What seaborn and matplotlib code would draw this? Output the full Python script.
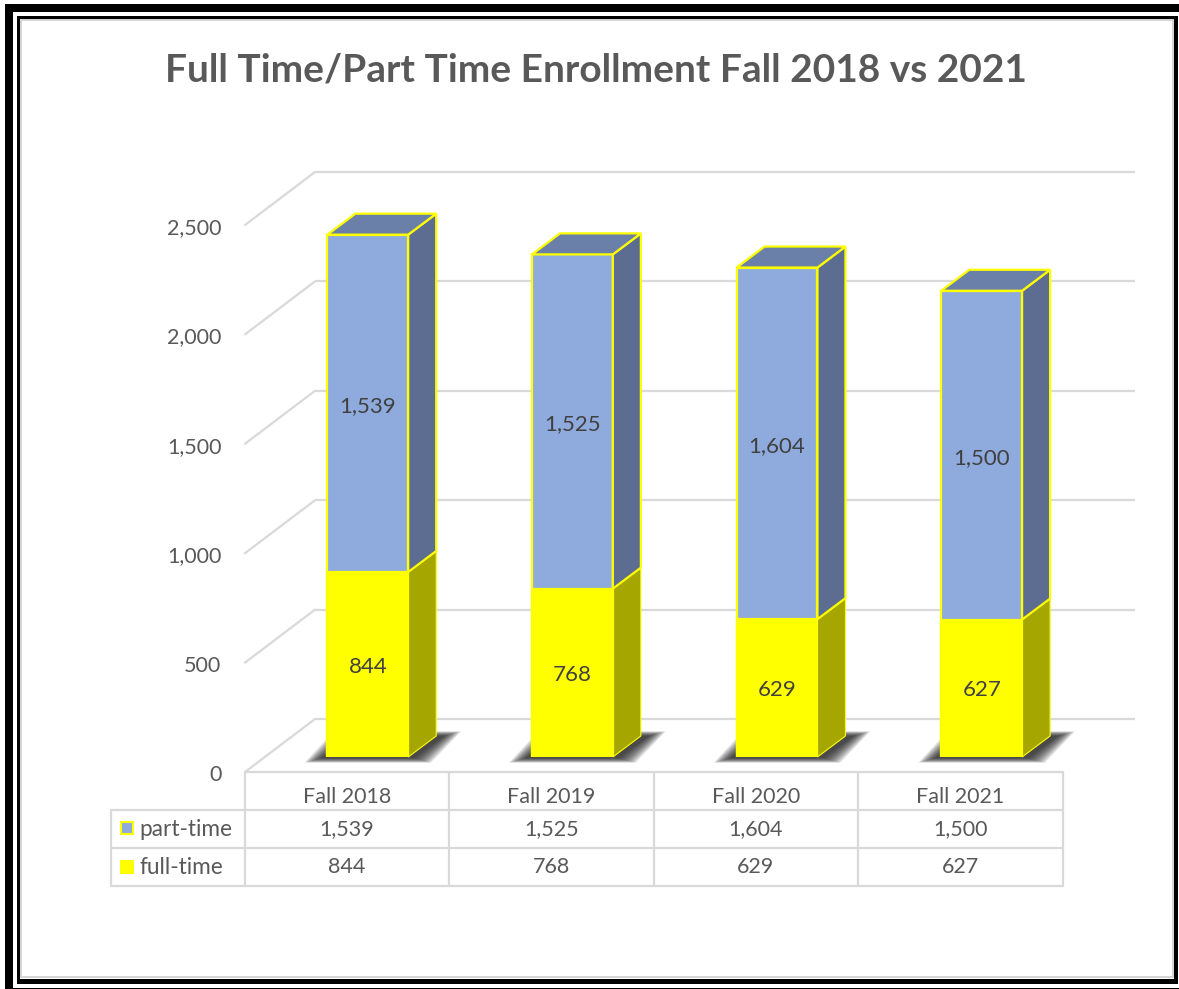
#!/usr/bin/env python

import pandas as pd
import matplotlib
matplotlib.use('Agg')
import seaborn as sns
import matplotlib.pyplot as plt
from matplotlib.patches import Polygon, Rectangle

semesters = ['Fall 2018', 'Fall 2019', 'Fall 2020', 'Fall 2021']
part_time = [1539, 1525, 1604, 1500]
full_time = [844, 768, 629, 627]
y_ticks = [0, 500, 1000, 1500, 2000, 2500]
title = 'Full Time/Part Time Enrollment Fall 2018 vs 2021'

W, H = 1179, 989
BLUE, BLUE_SIDE, BLUE_TOP = '#8faadc', '#5c6d91', '#6b80a9'
YELLOW, YELLOW_SIDE = '#ffff00', '#a6a600'
GRID = '#d9d9d9'
TEXT = '#595959'
LABEL = '#404040'

sns.set_theme(style='white')
plt.rcParams['font.family'] = ['Lato', 'DejaVu Sans']

df = pd.DataFrame({'semester': semesters, 'part': part_time, 'full': full_time})
df['total'] = df['part'] + df['full']

fig = plt.figure(figsize=(W / 100, H / 100), dpi=100, facecolor='white')


def px_axes(left, right, bottom, top):
    return fig.add_axes([left / W, 1 - bottom / H, (right - left) / W, (bottom - top) / H])


# overlay in pixel coordinates for the frame and the data table
bg = fig.add_axes([0, 0, 1, 1], zorder=0)
bg.set_xlim(0, W)
bg.set_ylim(H, 0)
bg.axis('off')

# outer border is cut off on the right and bottom in the original
bg.add_patch(Rectangle((5, 4), 8, 985, fc='black', ec='none'))
bg.add_patch(Rectangle((5, 4), 1174, 8, fc='black', ec='none'))
bg.add_patch(Rectangle((5, 988), 1174, 1, fc='black', ec='none'))
bg.add_patch(Rectangle((17, 16), 1161, 968, fc='black', ec='none'))
bg.add_patch(Rectangle((20, 19), 1154, 960, fc='white', ec='none'))
bg.add_patch(Rectangle((21, 20), 1152, 957, fc='white', ec='#d4d4d4', lw=1.4))

# walls: axis scale shared with the values
wall_scale = 0.2188
left_wall = px_axes(245, 1063, 773, 773 - 2500 * wall_scale)
left_wall.set_zorder(1)
left_wall.patch.set_alpha(0)
left_wall.set_ylim(0, 2500)
left_wall.set_xlim(0, 1)
left_wall.set_yticks(y_ticks)
left_wall.set_yticklabels([f'{v:,}' for v in y_ticks], fontsize=15.5, color=TEXT)
left_wall.set_xticks([])
left_wall.tick_params(axis='y', length=0, pad=17)
sns.despine(ax=left_wall, left=True, bottom=True)

back_wall = px_axes(315, 1135, 719, 719 - 2500 * wall_scale)
back_wall.set_zorder(1)
back_wall.patch.set_alpha(0)
back_wall.set_ylim(0, 2500)
back_wall.set_xlim(0, 1)
back_wall.hlines(y_ticks, 0, 1, color=GRID, lw=1.6, clip_on=False)
back_wall.axis('off')

for v in y_ticks:
    bg.plot([245, 315], [772 - v * wall_scale, 719 - v * wall_scale], color=GRID, lw=1.6)

# bars
bar_scale = 0.2192
ax = px_axes(265.5, 1084, 757, 757 - 2500 * bar_scale)
ax.set_zorder(2)
ax.patch.set_alpha(0)

bar_w = 0.395
sns.barplot(data=df, x='semester', y='total', color=BLUE, width=bar_w, saturation=1,
            edgecolor=YELLOW, linewidth=1.6, ax=ax, zorder=4)
sns.barplot(data=df, x='semester', y='full', color=YELLOW, width=bar_w, saturation=1,
            edgecolor=YELLOW, linewidth=1.6, ax=ax, zorder=5)
ax.set_ylim(0, 2500)
ax.set_xlim(-0.5, 3.5)
ax.axis('off')

# depth of the bars, in data units
px_x = 818.5 / 4
dx = 28 / px_x
dy = 21 / bar_scale

for i, row in df.iterrows():
    x0, x1 = i - bar_w / 2, i + bar_w / 2
    full, total = row['full'], row['total']
    # soft shadow on the floor, built up from stacked faint polygons
    for k in range(14):
        e = (13 - k) * 1.3
        low = -(1 + e * 0.28) / bar_scale
        high = (21 + e * 0.28) / bar_scale
        shadow = Polygon([(x0 - (6 + e) / px_x, low), (x1 + (6 + e) / px_x, low),
                          (x1 + (36 + e) / px_x, high), (x0 + (23 - e) / px_x, high)],
                         fc='#1a1a1a', ec='none', alpha=0.1, clip_on=False, zorder=3)
        ax.add_patch(shadow)
    ax.add_patch(Polygon([(x1, 0), (x1, full), (x1 + dx, full + dy), (x1 + dx, dy)],
                         fc=YELLOW_SIDE, ec=YELLOW, lw=0.8, clip_on=False, zorder=4))
    ax.add_patch(Polygon([(x1, full), (x1, total), (x1 + dx, total + dy), (x1 + dx, full + dy)],
                         fc=BLUE_SIDE, ec=YELLOW, lw=1.6, clip_on=False, zorder=4))
    ax.add_patch(Polygon([(x0, total), (x1, total), (x1 + dx, total + dy), (x0 + dx, total + dy)],
                         fc=BLUE_TOP, ec=YELLOW, lw=1.6, clip_on=False, zorder=4))
    ax.text(i, full / 2 - 10, f'{full:,}', ha='center', va='center', fontsize=16, color=LABEL, zorder=7)
    ax.text(i, full + row['part'] / 2 - 12, f"{row['part']:,}", ha='center', va='center',
            fontsize=16, color=LABEL, zorder=7)

# data table
col_x = [245, 449, 654, 858, 1063]
row_y = [772, 810, 848, 886]
for x in col_x:
    bg.plot([x, x], [row_y[0], row_y[-1]], color=GRID, lw=1.6)
bg.plot([245, 1063], [row_y[0], row_y[0]], color=GRID, lw=1.6)
for y in row_y[1:]:
    bg.plot([111, 1063], [y, y], color=GRID, lw=1.6)
bg.plot([111, 111], [row_y[1], row_y[-1]], color=GRID, lw=1.6)

centers = [(a + b) / 2 for a, b in zip(col_x[:-1], col_x[1:])]
for c, s, p, f in zip(centers, semesters, part_time, full_time):
    bg.text(c, 797, s, ha='center', va='center', fontsize=15.5, color=TEXT)
    bg.text(c, 829, f'{p:,}', ha='center', va='center', fontsize=15.5, color=TEXT)
    bg.text(c, 867, f'{f:,}', ha='center', va='center', fontsize=15.5, color=TEXT)

bg.add_patch(Rectangle((120.5, 822), 12, 12, fc=BLUE, ec=YELLOW, lw=1.5))
bg.add_patch(Rectangle((120, 860), 14, 14, fc=YELLOW, ec='none'))
bg.text(139, 830, 'part-time', ha='left', va='center', fontsize=16.3, color=TEXT)
bg.text(139, 868, 'full-time', ha='left', va='center', fontsize=16.3, color=TEXT)

bg.text(596, 70, title, ha='center', va='center', fontsize=28, fontweight='bold', color=TEXT)

fig.savefig('out.png', dpi=100, format='png')
plt.close()
